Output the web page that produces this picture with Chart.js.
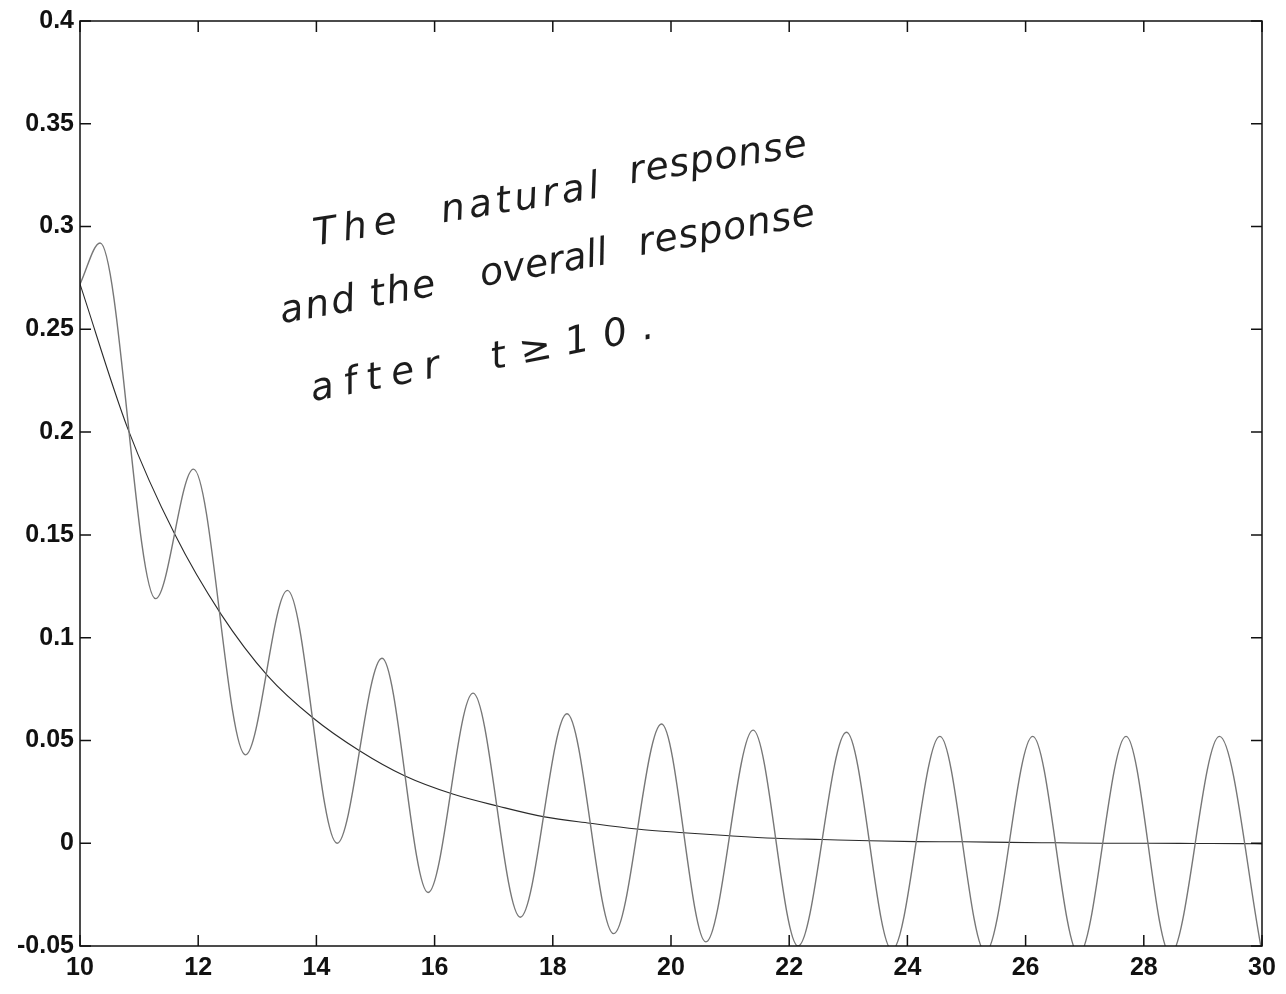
<!DOCTYPE html>
<html>
<head>
<meta charset="utf-8">
<title>Natural and overall response</title>
<script src="https://cdn.jsdelivr.net/npm/chart.js@4.4.1/dist/chart.umd.min.js"></script>
<style>
	html, body { margin: 0; padding: 0; background: #fff; }
	#wrap { width: 1286px; height: 994px; }
</style>
</head>
<body>
<div id="wrap"><canvas id="response-chart" width="1286" height="994"></canvas></div>
<script>
// overall response: start, then each peak / trough
const overallT = [10, 10.34, 11.28, 11.92, 12.80, 13.51, 14.35, 15.11, 15.89, 16.65, 17.45,
	18.24, 19.03, 19.84, 20.59, 21.39, 22.15, 22.97, 23.74, 24.55, 25.32, 26.12, 26.90,
	27.70, 28.45, 29.28, 30];
const overallY = [0.272, 0.292, 0.119, 0.182, 0.043, 0.123, 0.000, 0.090, -0.024, 0.073, -0.036,
	0.063, -0.044, 0.058, -0.048, 0.055, -0.050, 0.054, -0.052, 0.052, -0.053, 0.052, -0.054,
	0.052, -0.054, 0.052, -0.053];

// natural response: read where it crosses the overall curve
const naturalT = [10, 10.81, 11.60, 12.38, 13.18, 13.95, 14.73, 15.50, 16.32, 17.08, 17.86,
	18.63, 19.42, 20.21, 20.99, 21.76, 22.56, 23.36, 24.14, 24.94, 25.73, 26.51, 27.30,
	28.09, 28.88, 29.67, 30];
const naturalY = [0.272, 0.2016, 0.1505, 0.1117, 0.0813, 0.0608, 0.0450, 0.0327, 0.0238, 0.0180, 0.0128,
	0.0097, 0.0069, 0.0051, 0.0036, 0.0024, 0.0018, 0.0012, 0.0008, 0.0007, 0.0004, 0.0002, 0.0000,
	0.0000, -0.0001, -0.0002, -0.0003];

const xTicks = [10, 12, 14, 16, 18, 20, 22, 24, 26, 28, 30];
const yTicks = [-0.05, 0, 0.05, 0.1, 0.15, 0.2, 0.25, 0.3, 0.35, 0.4];

// handwritten note, one entry per word (anchor in data units)
const noteWords = ['The', 'natural', 'response', 'and', 'the', 'overall', 'response', 'after', 't≥10.'];
const noteT = [13.98, 16.14, 19.32, 13.42, 14.94, 16.80, 19.48, 13.94, 16.99];
const noteY = [0.2908, 0.302, 0.321, 0.253, 0.261, 0.271, 0.286, 0.215, 0.2306];

const notePlacement = {
	widths: [84, 160, 180, 76, 66, 126, 179, 131, 165],
	angles: [-9, -9, -9, -10, -10, -10, -10, -11, -11],
};

function toPoints(xs, ys) {
	return xs.map((x, i) => ({ x: x, y: ys[i] }));
}

// box round the plot with MATLAB-style ticks pointing inward
const boxAxes = {
	id: 'boxAxes',
	afterDatasetsDraw(chart) {
		const { ctx, chartArea: a, scales } = chart;
		const len = 11;
		ctx.save();
		ctx.strokeStyle = '#111';
		ctx.lineWidth = 1.5;
		ctx.strokeRect(a.left, a.top, a.right - a.left, a.bottom - a.top);
		ctx.beginPath();
		for (const t of xTicks) {
			const px = scales.x.getPixelForValue(t);
			ctx.moveTo(px, a.bottom);
			ctx.lineTo(px, a.bottom - len);
			ctx.moveTo(px, a.top);
			ctx.lineTo(px, a.top + len);
		}
		for (const v of yTicks) {
			const py = scales.y.getPixelForValue(v);
			ctx.moveTo(a.left, py);
			ctx.lineTo(a.left + len, py);
			ctx.moveTo(a.right, py);
			ctx.lineTo(a.right - len, py);
		}
		ctx.stroke();
		ctx.restore();
	},
};

const handNote = {
	id: 'handNote',
	afterDraw(chart) {
		const { ctx, scales } = chart;
		ctx.save();
		ctx.fillStyle = '#1c1c1c';
		ctx.font = 'italic 38px "DejaVu Sans"';
		ctx.textBaseline = 'alphabetic';
		noteWords.forEach((word, i) => {
			const px = scales.x.getPixelForValue(noteT[i]);
			const py = scales.y.getPixelForValue(noteY[i]);
			ctx.letterSpacing = '0px';
			const natural = ctx.measureText(word).width;
			const gaps = Math.max(word.length - 1, 1);
			const spacing = Math.max((notePlacement.widths[i] - natural) / gaps, 0);
			ctx.letterSpacing = spacing.toFixed(1) + 'px';
			ctx.save();
			ctx.translate(px, py);
			ctx.rotate((notePlacement.angles[i] * Math.PI) / 180);
			ctx.fillText(word, 0, 0);
			ctx.restore();
		});
		ctx.restore();
	},
};

new Chart(document.getElementById('response-chart'), {
	type: 'line',
	data: {
		datasets: [
			{
				label: 'overall response',
				data: toPoints(overallT, overallY),
				borderColor: '#777777',
				borderWidth: 1.4,
				pointRadius: 0,
				cubicInterpolationMode: 'monotone',
				clip: 0,
			},
			{
				label: 'natural response',
				data: toPoints(naturalT, naturalY),
				borderColor: '#2b2b2b',
				borderWidth: 1.1,
				pointRadius: 0,
				cubicInterpolationMode: 'monotone',
				clip: 0,
			},
		],
	},
	options: {
		responsive: false,
		animation: false,
		events: [],
		layout: { padding: { left: 0, top: 19, right: 24, bottom: 0 } },
		plugins: {
			legend: { display: false },
			tooltip: { enabled: false },
		},
		scales: {
			x: {
				type: 'linear',
				min: 10,
				max: 30,
				afterBuildTicks(scale) {
					scale.ticks = xTicks.map((v) => ({ value: v }));
				},
				afterFit(scale) {
					scale.height = 48;
				},
				grid: { display: false, drawTicks: false },
				border: { display: false },
				ticks: {
					padding: 7,
					color: '#111',
					font: { family: '"Liberation Sans", Arial, sans-serif', size: 25, weight: 'bold' },
					callback: (v) => String(v),
				},
			},
			y: {
				type: 'linear',
				min: -0.05,
				max: 0.4,
				afterBuildTicks(scale) {
					scale.ticks = yTicks.map((v) => ({ value: v }));
				},
				afterFit(scale) {
					scale.width = 80;
				},
				grid: { display: false, drawTicks: false },
				border: { display: false },
				ticks: {
					padding: 6,
					color: '#111',
					font: { family: '"Liberation Sans", Arial, sans-serif', size: 25, weight: 'bold' },
					callback: (v) => String(Number(v.toFixed(2))),
				},
			},
		},
	},
	plugins: [boxAxes, handNote],
});
</script>
</body>
</html>
